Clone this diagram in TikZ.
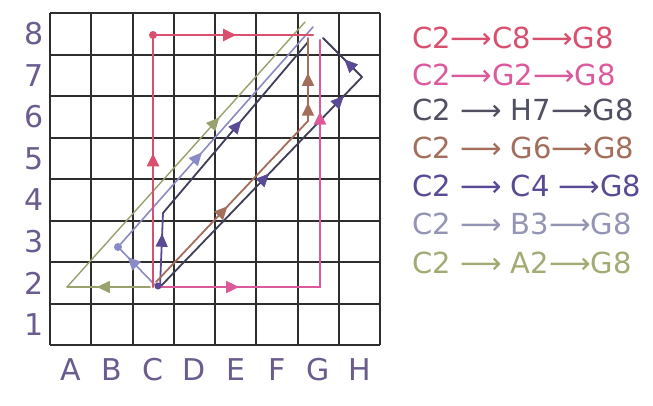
\documentclass[tikz,border=0pt]{standalone}
\usepackage{fontspec}
\setmainfont{DejaVu Sans}
\usetikzlibrary{decorations.markings,arrows.meta}
\definecolor{cred}{HTML}{D9506E}
\definecolor{cmag}{HTML}{DC5A9C}
\definecolor{cnavy}{HTML}{3E3E58}
\definecolor{cbrown}{HTML}{A46E5C}
\definecolor{cpurp}{HTML}{5A4A96}
\definecolor{clpurp}{HTML}{8A8AC4}
\definecolor{colive}{HTML}{9AA06E}
\definecolor{caxis}{HTML}{6A5C8E}
\definecolor{cgrid}{HTML}{2E2E2E}
\definecolor{tnavy}{HTML}{505062}
\definecolor{tlpurp}{HTML}{9494B4}
\definecolor{tolive}{HTML}{A4AA74}
\tikzset{
  gridline/.style={draw=cgrid, line width=2pt},
  route/.style={line width=#1, line cap=round, line join=round},
  ma/.style={postaction={decorate}, decoration={markings,
     mark=at position #1 with {\arrow{Triangle[length=13pt,width=12pt]}}}},
  mab/.style 2 args={postaction={decorate}, decoration={markings,
     mark=at position #1 with {\arrow{Triangle[length=13pt,width=12pt]}},
     mark=at position #2 with {\arrow{Triangle[length=13pt,width=12pt]}}}},
  axlbl/.style={text=caxis, font=\fontsize{30}{30}\selectfont, inner sep=0pt},
  routelbl/.style={anchor=west, inner sep=0pt, font=\fontsize{29}{31}\selectfont},
  blob/.style={circle, inner sep=0pt, minimum size=#1},
}
\begin{document}
\begin{tikzpicture}[x=1pt,y=-1pt]
\fill[white] (0,0) rectangle (653,405);
\useasboundingbox (0,0) rectangle (653,405);

% grid
\foreach \i in {0,...,8} {
  \draw[gridline] (50+41.25*\i,13) -- (50+41.25*\i,345);
  \draw[gridline] (50,13+41.5*\i) -- (380,13+41.5*\i);
}

% axis labels
\foreach \r [count=\k from 0] in {8,7,6,5,4,3,2,1}
  \node[axlbl] (row\r) at (34,34+41.5*\k) {\r};
\foreach \c [count=\k from 0] in {A,B,C,D,E,F,G,H}
  \node[axlbl] (col\c) at (70.6+41.25*\k,370) {\c};

% route points
\coordinate (rA) at (153,287);
\coordinate (rC8) at (153,35);
\coordinate (rG8) at (313,35);

\coordinate (mA) at (158,287);
\coordinate (mG2) at (320,287);
\coordinate (mG8) at (320,40);

\coordinate (nA) at (160,287);
\coordinate (nH7) at (362,77);
\coordinate (nG8) at (323,38);

\coordinate (bA) at (156,282);
\coordinate (bG6) at (308,121);
\coordinate (bG8) at (308,38);

\coordinate (pA) at (160,287);
\coordinate (pC4) at (163,213);
\coordinate (pG8) at (308,42);

\coordinate (lA) at (155,285);
\coordinate (lB3) at (118,247);
\coordinate (lG8) at (313,27);

\coordinate (oA) at (150,287);
\coordinate (oA2) at (67,287);
\coordinate (oG8) at (305,22);

% olive C2 -> A2 -> G8
\draw[route=1.4pt, colive, ma=0.64] (oA) -- (oA2);
\draw[route=1.4pt, colive, ma=0.64] (oA2) -- (oG8);

% light purple C2 -> B3 -> G8
\draw[route=1.6pt, clpurp, ma=0.74] (lA) -- (lB3);
\draw[route=1.6pt, clpurp, ma=0.43] (lB3) -- (lG8);
\node[blob=8pt, fill=clpurp] (lB3dot) at (lB3) {};

% dark purple C2 -> C4 -> G8
\draw[route=1.8pt, cpurp, ma=0.72] (pA) -- (pC4);
\draw[route=1.8pt, cnavy] (pC4) -- (pG8);
\path[cpurp, ma=0.54] (pC4) -- (pG8);

% brown C2 -> G6 -> G8
\draw[route=1.8pt, cbrown, ma=0.47] (bA) -- (bG6);
\draw[route=2pt, cbrown, mab={0.22}{0.58}] (bG6) -- (bG8);

% navy C2 -> H7 -> G8
\draw[route=1.8pt, cnavy] (nA) -- (nH7);
\path[cpurp, mab={0.54}{0.91}] (nA) -- (nH7);
\draw[route=1.8pt, cnavy] (nH7) -- (nG8);
\path[cpurp, ma=0.45] (nH7) -- (nG8);

% magenta C2 -> G2 -> G8
\draw[route=2.4pt, cmag, ma=0.5] (mA) -- (mG2);
\draw[route=2.4pt, cmag, ma=0.71] (mG2) -- (mG8);

% red C2 -> C8 -> G8
\draw[route=2.4pt, cred, ma=0.53] (rA) -- (rC8);
\draw[route=2.4pt, cred, ma=0.52] (rC8) -- (rG8);
\node[blob=8pt, fill=cred] (rC8dot) at (rC8) {};
\node[blob=7pt, fill=cpurp] (c2dot) at (158,286) {};

% route list
\node[routelbl, text=cred]   (t1) at (412,38)  {C2⟶C8⟶G8};
\node[routelbl, text=cmag]   (t2) at (412,75)  {C2⟶G2⟶G8};
\node[routelbl, text=tnavy]  (t3) at (412,110) {C2 ⟶ H7⟶G8};
\node[routelbl, text=cbrown] (t4) at (412,148) {C2 ⟶ G6⟶G8};
\node[routelbl, text=cpurp]  (t5) at (412,186) {C2 ⟶ C4 ⟶G8};
\node[routelbl, text=tlpurp] (t6) at (412,224) {C2 ⟶ B3⟶G8};
\node[routelbl, text=tolive] (t7) at (412,263) {C2 ⟶ A2⟶G8};
\end{tikzpicture}
\end{document}
